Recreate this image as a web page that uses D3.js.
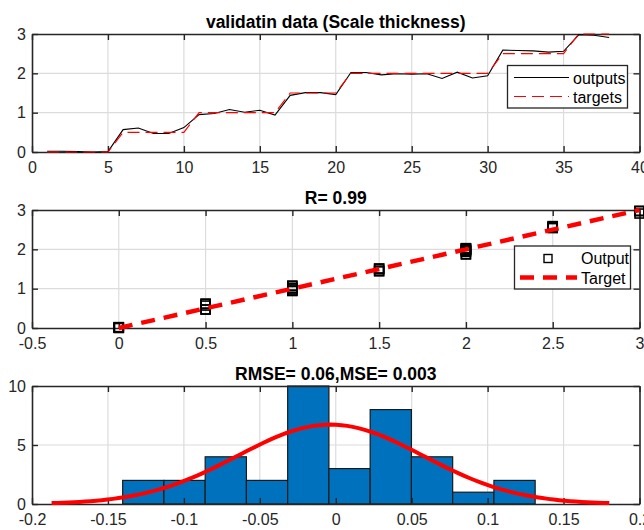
<!DOCTYPE html>
<html>
<head>
<meta charset="utf-8">
<script src="https://cdn.jsdelivr.net/npm/d3@7"></script>
<style>
  html, body { margin: 0; padding: 0; background: #fff; }
  svg { display: block; font-family: "Liberation Sans", Arial, Helvetica, sans-serif; }
  .tick text { font-size: 16px; fill: #262626; }
  .title { font-size: 17.5px; font-weight: bold; fill: #000; }
  .legend text { font-size: 16px; fill: #000; }
</style>
</head>
<body>
<svg id="chart" width="644" height="530"></svg>
<script>
// Sample index for the validation set
const sampleIdx = d3.range(1, 39);

// Network outputs for each validation sample
const outputs = [
  0.02, 0.02, 0.01, 0.00, 0.01,
  0.57, 0.61, 0.47, 0.47, 0.62,
  0.95, 0.98, 1.08, 1.01, 1.06, 0.94,
  1.44, 1.51, 1.51, 1.46,
  2.02, 2.02, 1.96, 1.99, 1.98, 1.99, 1.87, 2.03, 1.88, 1.94,
  2.59, 2.58, 2.57, 2.54, 2.56,
  2.98, 2.97, 2.91
];

// Measured scale thickness (targets)
const targets = [
  0, 0, 0, 0, 0,
  0.5, 0.5, 0.5, 0.5, 0.5,
  1, 1, 1, 1, 1, 1,
  1.5, 1.5, 1.5, 1.5,
  2, 2, 2, 2, 2, 2, 2, 2, 2, 2,
  2.5, 2.5, 2.5, 2.5, 2.5,
  3, 3, 3
];

// Error histogram: counts per bin, first bin edge and bin width
const histCounts = [2, 2, 4, 2, 10, 3, 8, 4, 1, 2];
const histStart = -0.1403;
const histBinWidth = 0.02716;

// Normal fit of the errors
const fitMean = -0.0035;
const fitStd = 0.0612;

// Tick values
const ticksX1 = [0, 5, 10, 15, 20, 25, 30, 35, 40];
const ticksY1 = [0, 1, 2, 3];
const ticksX2 = [-0.5, 0, 0.5, 1, 1.5, 2, 2.5, 3];
const ticksY2 = [0, 1, 2, 3];
const ticksX3 = [-0.2, -0.15, -0.1, -0.05, 0, 0.05, 0.1, 0.15, 0.2];
const ticksY3 = [0, 5, 10];

const titles = ["validatin data (Scale thickness)", "R= 0.99", "RMSE= 0.06,MSE= 0.003"];

const svg = d3.select("#chart");
const left = 32, right = 639.5;
const panels = [
  { top: 34, bottom: 152 },
  { top: 210, bottom: 328 },
  { top: 386, bottom: 504 }
];
const axisColor = "#262626";
const gridColor = "#dcdcdc";
const fmt = d => String(d);

function frame(g, x, y, xt, yt, p) {
  // grid
  g.append("g").selectAll("line").data(xt.filter(v => x(v) > left + 1 && x(v) < right - 1)).join("line")
    .attr("x1", d => x(d)).attr("x2", d => x(d)).attr("y1", p.top).attr("y2", p.bottom)
    .attr("stroke", gridColor).attr("stroke-width", 1.2);
  g.append("g").selectAll("line").data(yt.filter(v => y(v) > p.top + 1 && y(v) < p.bottom - 1)).join("line")
    .attr("x1", left).attr("x2", right).attr("y1", d => y(d)).attr("y2", d => y(d))
    .attr("stroke", gridColor).attr("stroke-width", 1.2);
}

function axes(g, x, y, xt, yt, p) {
  const ax = [
    g.append("g").attr("transform", `translate(0,${p.bottom})`)
      .call(d3.axisBottom(x).tickValues(xt).tickFormat(fmt).tickSizeInner(-6).tickSizeOuter(0).tickPadding(10)),
    g.append("g").attr("transform", `translate(0,${p.top})`)
      .call(d3.axisTop(x).tickValues(xt).tickFormat("").tickSizeInner(-6).tickSizeOuter(0)),
    g.append("g").attr("transform", `translate(${left},0)`)
      .call(d3.axisLeft(y).tickValues(yt).tickFormat(fmt).tickSizeInner(-6).tickSizeOuter(0).tickPadding(6)),
    g.append("g").attr("transform", `translate(${right},0)`)
      .call(d3.axisRight(y).tickValues(yt).tickFormat("").tickSizeInner(-6).tickSizeOuter(0))
  ];
  ax.forEach(a => {
    a.select(".domain").attr("stroke", axisColor).attr("stroke-width", 1.6);
    a.selectAll(".tick line").attr("stroke", axisColor).attr("stroke-width", 1.4);
    a.selectAll(".tick text").attr("fill", axisColor);
  });
}

function title(g, text, p) {
  g.append("text").attr("class", "title")
    .attr("x", (left + right) / 2).attr("y", p.top - 6)
    .attr("text-anchor", "middle").text(text);
}

// ---------- Panel 1: outputs vs targets over samples ----------
{
  const p = panels[0];
  const g = svg.append("g");
  const x = d3.scaleLinear().domain([0, 40]).range([left, right]);
  const y = d3.scaleLinear().domain([0, 3]).range([p.bottom, p.top]);
  frame(g, x, y, ticksX1, ticksY1, p);
  axes(g, x, y, ticksX1, ticksY1, p);
  const line = d3.line().x(d => x(d[0])).y(d => y(d[1]));
  g.append("path").datum(sampleIdx.map((s, i) => [s, outputs[i]]))
    .attr("d", line).attr("fill", "none").attr("stroke", "#000").attr("stroke-width", 1.1);
  g.append("path").datum(sampleIdx.map((s, i) => [s, targets[i]]))
    .attr("d", line).attr("fill", "none").attr("stroke", "#ff0000").attr("stroke-width", 1.1)
    .attr("stroke-dasharray", "12,6");
  title(g, titles[0], p);

  const lg = g.append("g").attr("class", "legend");
  lg.append("rect").attr("x", 507.5).attr("y", 65.5).attr("width", 120).attr("height", 42.5)
    .attr("fill", "#fff").attr("stroke", axisColor).attr("stroke-width", 1.3);
  lg.append("line").attr("x1", 514).attr("x2", 569).attr("y1", 77.5).attr("y2", 77.5)
    .attr("stroke", "#000").attr("stroke-width", 1.1);
  lg.append("line").attr("x1", 514).attr("x2", 569).attr("y1", 96.5).attr("y2", 96.5)
    .attr("stroke", "#ff0000").attr("stroke-width", 1.1).attr("stroke-dasharray", "12,6");
  lg.append("text").attr("x", 573).attr("y", 83.5).text("outputs");
  lg.append("text").attr("x", 573).attr("y", 102.5).text("targets");
}

// ---------- Panel 2: regression of outputs on targets ----------
{
  const p = panels[1];
  const g = svg.append("g");
  const x = d3.scaleLinear().domain([-0.5, 3]).range([left, right]);
  const y = d3.scaleLinear().domain([0, 3]).range([p.bottom, p.top]);
  frame(g, x, y, ticksX2, ticksY2, p);
  axes(g, x, y, ticksX2, ticksY2, p);
  const sq = 9;
  g.append("g").selectAll("rect").data(targets.map((t, i) => [t, outputs[i]])).join("rect")
    .attr("x", d => x(d[0]) - sq / 2).attr("y", d => y(d[1]) - sq / 2)
    .attr("width", sq).attr("height", sq)
    .attr("fill", "none").attr("stroke", "#000").attr("stroke-width", 1.6);
  const tl = targets.map(t => [t, t]).sort((a, b) => a[0] - b[0]);
  g.append("path").datum(tl)
    .attr("d", d3.line().x(d => x(d[0])).y(d => y(d[1])))
    .attr("fill", "none").attr("stroke", "#ff0000").attr("stroke-width", 4.5)
    .attr("stroke-dasharray", "14,9");
  title(g, titles[1], p);

  const lg = g.append("g").attr("class", "legend");
  lg.append("rect").attr("x", 514.5).attr("y", 246).attr("width", 116).attr("height", 43)
    .attr("fill", "#fff").attr("stroke", axisColor).attr("stroke-width", 1.3);
  lg.append("rect").attr("x", 548 - 4).attr("y", 258.5 - 4).attr("width", 8).attr("height", 8)
    .attr("fill", "none").attr("stroke", "#000").attr("stroke-width", 1.4);
  lg.append("line").attr("x1", 520).attr("x2", 577).attr("y1", 277.5).attr("y2", 277.5)
    .attr("stroke", "#ff0000").attr("stroke-width", 4.5).attr("stroke-dasharray", "14,9");
  lg.append("text").attr("x", 581).attr("y", 264).text("Output");
  lg.append("text").attr("x", 581).attr("y", 283.5).text("Target");
}

// ---------- Panel 3: error histogram with normal fit ----------
{
  const p = panels[2];
  const g = svg.append("g");
  const x = d3.scaleLinear().domain([-0.2, 0.2]).range([left, right]);
  const y = d3.scaleLinear().domain([0, 10]).range([p.bottom, p.top]);
  frame(g, x, y, ticksX3, ticksY3, p);
  const bins = histCounts.map((c, i) => ({ x0: histStart + i * histBinWidth, x1: histStart + (i + 1) * histBinWidth, c }));
  g.append("g").selectAll("rect").data(bins).join("rect")
    .attr("x", d => x(d.x0)).attr("width", d => x(d.x1) - x(d.x0))
    .attr("y", d => y(d.c)).attr("height", d => y(0) - y(d.c))
    .attr("fill", "#0072bd").attr("stroke", "#1a1a1a").attr("stroke-width", 1.2);
  axes(g, x, y, ticksX3, ticksY3, p);
  const n = d3.sum(histCounts);
  const scale = n * histBinWidth / (fitStd * Math.sqrt(2 * Math.PI));
  const xs = d3.range(0, 101).map(i => fitMean - 3 * fitStd + i * 6 * fitStd / 100);
  g.append("path").datum(xs.map(v => [v, scale * Math.exp(-0.5 * ((v - fitMean) / fitStd) ** 2)]))
    .attr("d", d3.line().x(d => x(d[0])).y(d => y(d[1])))
    .attr("fill", "none").attr("stroke", "#ff0000").attr("stroke-width", 4);
  title(g, titles[2], p);
}
</script>
</body>
</html>
